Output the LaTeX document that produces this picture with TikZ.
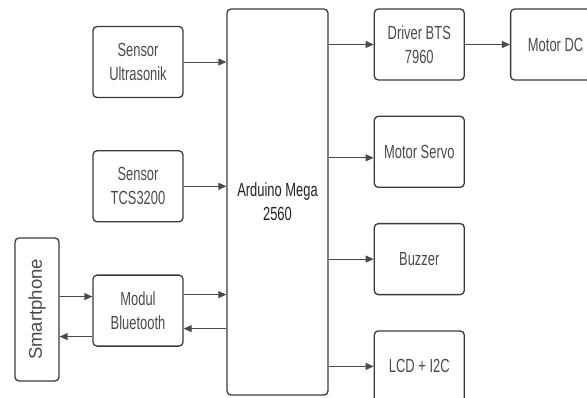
\documentclass[tikz,border=0pt]{standalone}
\usepackage{fontspec}
\setmainfont[FakeStretch=0.68]{Liberation Sans}
\newfontfamily\phonefont{Liberation Sans}
\usetikzlibrary{arrows.meta,positioning}
\definecolor{Edge}{HTML}{3A3A3A}
\definecolor{Ink}{HTML}{4A4A4A}
\definecolor{InkDark}{HTML}{222222}
\definecolor{Wire}{HTML}{4A4A4A}

\begin{document}
\begin{tikzpicture}[x=1pt, y=-1pt,
    box/.style={draw=Edge, line width=1.3pt, rounded corners=4pt, minimum width=90pt,
                minimum height=71pt, align=center, text=Ink, inner sep=2pt,
                font=\fontsize{19}{24}\selectfont},
    wire/.style={draw=Wire, line width=0.9pt, -{Triangle[length=8pt,width=7pt]}},
    node distance=35pt and 45pt
  ]
    \useasboundingbox (0,0) rectangle (587,397);
    \clip (0,0) rectangle (587,397);

    % inputs
    \node[box] (us) at (138,62) {Sensor\\Ultrasonik};
    \node[box, below=52pt of us] (tcs) {Sensor\\TCS3200};
    \node[box, below=52pt of tcs] (bt) {Modul\\Bluetooth};
    \node[box, rotate=90, minimum width=143pt, minimum height=44pt,
          font=\phonefont\fontsize{18.5}{20}\selectfont] (phone) at (37,309.5) {Smartphone};

    % controller
    \node[box, text=InkDark, minimum width=101pt, minimum height=386pt] (ard) at (277.5,202) {Arduino Mega\\2560};

    % outputs
    \node[box, below right=0pt and 45pt of ard.north east] (drv) {Driver BTS\\7960};
    \node[box, right=of drv] (dc) {Motor DC};
    \node[box, below=of drv] (srv) {Motor Servo};
    \node[box, below=of srv] (buz) {Buzzer};
    \node[box, below=of buz] (lcd) {LCD + I2C};

    \draw[wire] (us.east) -- (us.east -| ard.west);
    \draw[wire] (tcs.east) -- (tcs.east -| ard.west);
    \draw[wire] ([yshift=16pt]bt.east) -- ([yshift=16pt]bt.east -| ard.west);
    \draw[wire] ([yshift=-18pt]bt.east -| ard.west) -- ([yshift=-18pt]bt.east);
    \draw[wire] ([yshift=14pt]bt.west -| phone.south) -- ([yshift=14pt]bt.west);
    \draw[wire] ([yshift=-26pt]bt.west) -- ([yshift=-26pt]bt.west -| phone.south);

    \draw[wire] (drv.west -| ard.east) -- (drv.west);
    \draw[wire] (drv.east) -- (dc.west);
    \draw[wire] ([yshift=-6pt]srv.west -| ard.east) -- ([yshift=-6pt]srv.west);
    \draw[wire] (buz.west -| ard.east) -- (buz.west);
    \draw[wire] (lcd.west -| ard.east) -- (lcd.west);
  \end{tikzpicture}
\end{document}
